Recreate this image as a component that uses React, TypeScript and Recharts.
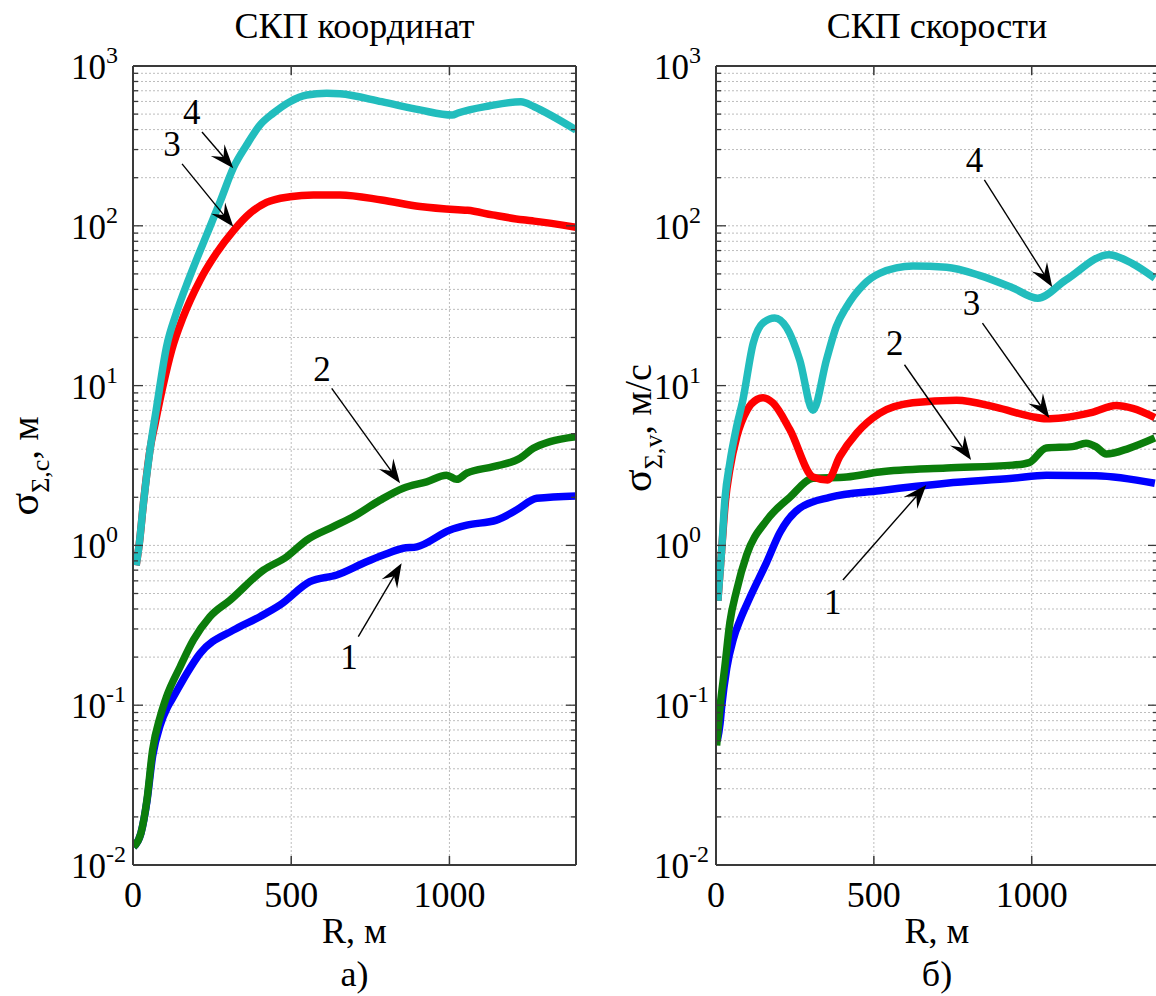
import React from "react";
import { LineChart, Line, XAxis, YAxis, CartesianGrid, ReferenceLine, ReferenceDot } from "recharts";

type Pt = [number, number];

// ---------- axes ----------
const xTicks = [0, 500, 1000];
const xTopTicks = [500, 1000];
const yDecades = [0.01, 0.1, 1, 10, 100, 1000];
const yMultipliers = [1, 2, 3, 4, 5, 6, 7, 8, 9];
const yTicks = yDecades
  .flatMap((d) => yMultipliers.map((m) => +(m * d).toPrecision(3)))
  .filter((v) => v <= 1000);

// ---------- panel а) СКП координат : [R, σ] ----------
const coordBlue: Pt[] = [
  [2, 0.013], [25, 0.0158], [44, 0.025], [62, 0.048], [86, 0.075], [110, 0.098], [128, 0.113],
  [170, 0.158], [212, 0.211], [317, 0.295], [401, 0.358], [465, 0.424], [559, 0.593], [644, 0.653],
  [738, 0.79], [791, 0.87], [854, 0.96], [897, 0.98], [1002, 1.25], [1055, 1.34], [1149, 1.44],
  [1213, 1.67], [1276, 1.97], [1400, 2.04],
];
const coordGreen: Pt[] = [
  [2, 0.013], [25, 0.0158], [44, 0.0255], [62, 0.0525], [86, 0.0848], [106, 0.113], [149, 0.174],
  [191, 0.256], [243, 0.358], [307, 0.455], [412, 0.7], [486, 0.85], [549, 1.08], [633, 1.31],
  [696, 1.51], [781, 1.92], [854, 2.28], [928, 2.5], [991, 2.75], [1023, 2.59], [1055, 2.83],
  [1139, 3.11], [1223, 3.51], [1265, 4.05], [1318, 4.46], [1400, 4.79],
];
const coordRed: Pt[] = [
  [10, 0.75], [20, 1.03], [33, 1.84], [54, 4.0], [70, 5.8], [96, 10.2], [122, 16.6], [159, 27],
  [212, 45.7], [264, 67.6], [317, 93], [370, 120], [422, 140], [496, 152], [570, 156], [654, 156],
  [786, 145], [907, 132], [1027, 126], [1057, 125], [1136, 117], [1232, 109], [1268, 107], [1400, 98],
];
const coordCyan: Pt[] = [
  [10, 0.75], [20, 1.03], [33, 1.84], [54, 4.0], [75, 7.4], [106, 17.5], [138, 28.8], [175, 45.7],
  [201, 61.7], [233, 88], [275, 141], [317, 230], [359, 320], [401, 427], [443, 506], [496, 598],
  [549, 658], [612, 675], [654, 670], [786, 598], [907, 531], [1009, 493], [1027, 508], [1124, 562],
  [1226, 598], [1268, 556], [1328, 482], [1400, 398],
];

// ---------- panel б) СКП скорости : [R, σ] ----------
const velBlue: Pt[] = [
  [4, 0.06], [13, 0.077], [18, 0.098], [34, 0.17], [55, 0.26], [76, 0.34], [107, 0.47], [160, 0.78],
  [202, 1.2], [265, 1.71], [360, 2.0], [518, 2.2], [730, 2.45], [939, 2.63], [1046, 2.75], [1204, 2.73],
  [1390, 2.45],
];
const velGreen: Pt[] = [
  [2, 0.056], [13, 0.098], [28, 0.174], [44, 0.33], [65, 0.52], [97, 0.87], [161, 1.44], [234, 2.0],
  [307, 2.63], [414, 2.68], [518, 2.88], [730, 3.05], [939, 3.18], [992, 3.3], [1046, 4.07], [1129, 4.15],
  [1172, 4.36], [1203, 4.15], [1236, 3.73], [1308, 4.05], [1390, 4.7],
];
const velRed: Pt[] = [
  [6, 0.45], [18, 0.94], [30, 1.9], [44, 3.0], [66, 4.8], [98, 7.0], [130, 8.2], [149, 8.4], [180, 7.8],
  [234, 5.3], [307, 2.68], [354, 2.57], [392, 3.6], [446, 5.05], [518, 6.7], [623, 7.8], [762, 8.1],
  [888, 7.3], [1000, 6.4], [1046, 6.2], [1100, 6.3], [1192, 6.8], [1267, 7.5], [1320, 7.2], [1390, 6.3],
];
const velCyan: Pt[] = [
  [6, 0.45], [18, 0.94], [28, 1.92], [44, 3.3], [65, 5.5], [85, 8.1], [118, 18.5], [149, 24.7],
  [186, 26.5], [224, 23], [265, 14.5], [307, 7.0], [350, 14.5], [381, 23.4], [413, 31], [466, 42.6],
  [518, 50.4], [624, 56], [730, 55], [834, 49], [939, 41], [1019, 35.2], [1108, 45.8], [1245, 66],
  [1319, 58], [1390, 47],
];

// ---------- annotations: label position, arrow start, arrow tip (data coords) ----------
type Note = { label: string; lr: number; lv: number; fr: number; fv: number; tr: number; tv: number };
const coordNotes: Note[] = [
  { label: "4", lr: 186, lv: 515, fr: 218, fv: 386, tr: 317, tv: 229 },
  { label: "3", lr: 123, lv: 325, fr: 155, fv: 244, tr: 317, tv: 98.7 },
  { label: "2", lr: 597, lv: 12.7, fr: 628, fv: 9.6, tr: 844, tv: 2.45 },
  { label: "1", lr: 683, lv: 0.199, fr: 712, fv: 0.269, tr: 849, tv: 0.773 },
];
const velNotes: Note[] = [
  { label: "4", lr: 819, lv: 258, fr: 850, fv: 194, tr: 1065, tv: 41.4 },
  { label: "3", lr: 809, lv: 32.9, fr: 844, fv: 24.6, tr: 1056, tv: 6.27 },
  { label: "2", lr: 566, lv: 18.5, fr: 597, fv: 13.5, tr: 808, tv: 3.42 },
  { label: "1", lr: 370, lv: 0.443, fr: 402, fv: 0.607, tr: 666, tv: 2.39 },
];

// ---------- style ----------
const FONT = "'Liberation Serif', 'Times New Roman', serif";
const AXIS = "#3a3a3a";
const GRID = "#bdbdbd";
const COLORS = { blue: "#0000ff", green: "#0b7d0b", red: "#ff0000", cyan: "#22bdbd" };

const toData = (pts: Pt[]) => pts.map(([r, v]) => ({ r, v }));

const isDecade = (v: number) => Math.abs(Math.log10(v) - Math.round(Math.log10(v))) < 1e-6;

const BottomTick = (p: any) => {
  const { x, y, payload } = p;
  return (
    <g>
      <line x1={x} y1={y} x2={x} y2={y - 9} stroke={AXIS} strokeWidth={1.5} />
      <text x={x} y={y + 42} textAnchor="middle" fontFamily={FONT} fontSize={36} fill="#000">
        {payload.value}
      </text>
    </g>
  );
};
const TopTick = (p: any) => {
  const { x, y } = p;
  return <line x1={x} y1={y} x2={x} y2={y + 9} stroke={AXIS} strokeWidth={1.5} />;
};
const LeftTick = (p: any) => {
  const { x, y, payload } = p;
  const dec = isDecade(payload.value);
  const exp = Math.round(Math.log10(payload.value));
  return (
    <g>
      <line x1={x} y1={y} x2={x + (dec ? 10 : 5)} y2={y} stroke={AXIS} strokeWidth={1.3} />
      {dec && (
        <text x={x - 62} y={y + 13} textAnchor="start" fontFamily={FONT} fontSize={35} fill="#000">
          10
          <tspan fontSize={24} dy={-16}>
            {String(exp)}
          </tspan>
        </text>
      )}
    </g>
  );
};
const RightTick = (p: any) => {
  const { x, y, payload } = p;
  const dec = isDecade(payload.value);
  return <line x1={x} y1={y} x2={x - (dec ? 10 : 5)} y2={y} stroke={AXIS} strokeWidth={1.3} />;
};

const ArrowShape = (p: any) => {
  const { x1, y1, x2, y2 } = p;
  if ([x1, y1, x2, y2].some((v) => typeof v !== "number" || isNaN(v))) return <g />;
  const dx = x2 - x1;
  const dy = y2 - y1;
  const len = Math.hypot(dx, dy) || 1;
  const ux = dx / len;
  const uy = dy / len;
  const nx = -uy;
  const ny = ux;
  const L = 24;
  const W = 9;
  const N = 15;
  const bx = x2 - ux * L;
  const by = y2 - uy * L;
  const pts = [
    [x2, y2],
    [bx + nx * W, by + ny * W],
    [x2 - ux * N, y2 - uy * N],
    [bx - nx * W, by - ny * W],
  ];
  return (
    <g>
      <line x1={x1} y1={y1} x2={x2 - ux * N} y2={y2 - uy * N} stroke="#000" strokeWidth={1.4} />
      <polygon points={pts.map((q) => q.join(",")).join(" ")} fill="#000" />
    </g>
  );
};

const makeLabelShape = (label: string) => (p: any) => {
  const { cx, cy } = p;
  if (typeof cx !== "number" || typeof cy !== "number") return <g />;
  return (
    <text x={cx} y={cy + 12} textAnchor="middle" fontFamily={FONT} fontSize={35} fill="#000">
      {label}
    </text>
  );
};

type Series = { name: string; data: Pt[]; color: string };

function Panel({
  series,
  notes,
  width,
  margin,
}: {
  series: Series[];
  notes: Note[];
  width: number;
  margin: { top: number; right: number; bottom: number; left: number };
}) {
  const axisLine = { stroke: AXIS, strokeWidth: 2 };
  return (
    <LineChart width={width} height={996} margin={margin}>
      <CartesianGrid stroke={GRID} strokeDasharray="2 2" strokeWidth={1} />
      <XAxis
        xAxisId={0}
        type="number"
        dataKey="r"
        domain={[0, 1400]}
        ticks={xTicks}
        interval={0}
        allowDataOverflow
        height={40}
        tickSize={0}
        tickMargin={0}
        tickLine={false}
        axisLine={axisLine}
        tick={<BottomTick />}
      />
      <XAxis
        xAxisId="top"
        orientation="top"
        type="number"
        dataKey="r"
        domain={[0, 1400]}
        ticks={xTopTicks}
        interval={0}
        allowDataOverflow
        height={1}
        tickSize={0}
        tickMargin={0}
        tickLine={false}
        axisLine={axisLine}
        tick={<TopTick />}
      />
      <YAxis
        yAxisId={0}
        type="number"
        scale="log"
        domain={[0.01, 1000]}
        ticks={yTicks}
        interval={0}
        allowDataOverflow
        width={100}
        tickSize={0}
        tickMargin={0}
        tickLine={false}
        axisLine={axisLine}
        tick={<LeftTick />}
      />
      <YAxis
        yAxisId="right"
        orientation="right"
        type="number"
        scale="log"
        domain={[0.01, 1000]}
        ticks={yTicks}
        interval={0}
        allowDataOverflow
        width={1}
        tickSize={0}
        tickMargin={0}
        tickLine={false}
        axisLine={axisLine}
        tick={<RightTick />}
      />
      {series.map((s) => (
        <Line
          key={s.name}
          name={s.name}
          data={toData(s.data)}
          dataKey="v"
          xAxisId={0}
          yAxisId={0}
          type="monotone"
          stroke={s.color}
          strokeWidth={7.5}
          strokeLinejoin="round"
          dot={false}
          activeDot={false}
          isAnimationActive={false}
        />
      ))}
      {notes.map((n, i) => (
        <ReferenceLine
          key={"a" + i}
          xAxisId={0}
          yAxisId={0}
          segment={[
            { x: n.fr, y: n.fv },
            { x: n.tr, y: n.tv },
          ]}
          ifOverflow="visible"
          shape={ArrowShape}
        />
      ))}
      {notes.map((n, i) => (
        <ReferenceDot
          key={"l" + i}
          xAxisId={0}
          yAxisId={0}
          x={n.lr}
          y={n.lv}
          r={0}
          ifOverflow="visible"
          shape={makeLabelShape(n.label)}
        />
      ))}
    </LineChart>
  );
}

const coordSeries: Series[] = [
  { name: "1", data: coordBlue, color: COLORS.blue },
  { name: "2", data: coordGreen, color: COLORS.green },
  { name: "3", data: coordRed, color: COLORS.red },
  { name: "4", data: coordCyan, color: COLORS.cyan },
];
const velSeries: Series[] = [
  { name: "1", data: velBlue, color: COLORS.blue },
  { name: "2", data: velGreen, color: COLORS.green },
  { name: "3", data: velRed, color: COLORS.red },
  { name: "4", data: velCyan, color: COLORS.cyan },
];

export default function App() {
  return (
    <div
      style={{
        position: "absolute",
        left: 0,
        top: 0,
        width: 1156,
        height: 996,
        overflow: "hidden",
        background: "#fff",
      }}
    >
      <div style={{ position: "absolute", left: 0, top: 0 }}>
        <Panel series={coordSeries} notes={coordNotes} width={590} margin={{ top: 65, right: 13, bottom: 91, left: 33 }} />
      </div>
      <div style={{ position: "absolute", left: 580, top: 0 }}>
        <Panel series={velSeries} notes={velNotes} width={600} margin={{ top: 65, right: 21, bottom: 91, left: 36 }} />
      </div>
      <svg
        width={1156}
        height={996}
        style={{ position: "absolute", left: 0, top: 0, pointerEvents: "none" }}
        fontFamily={FONT}
      >
        <text x={354.5} y={38} textAnchor="middle" fontSize={36} fill="#000">СКП координат</text>
        <text x={937} y={38} textAnchor="middle" fontSize={36} fill="#000">СКП скорости</text>
        <text x={354.5} y={943} textAnchor="middle" fontSize={36} fill="#000">R, м</text>
        <text x={937} y={943} textAnchor="middle" fontSize={36} fill="#000">R, м</text>
        <text x={354.5} y={986} textAnchor="middle" fontSize={36} fill="#000">а)</text>
        <text x={937} y={986} textAnchor="middle" fontSize={36} fill="#000">б)</text>
        <text x={38} y={466} textAnchor="middle" transform="rotate(-90 38 466)" fill="#000">
          <tspan fontSize={42}>σ</tspan>
          <tspan fontSize={26} dy={11}>Σ,c</tspan>
          <tspan fontSize={38} dy={-11}>, м</tspan>
        </text>
        <text x={651} y={428} textAnchor="middle" transform="rotate(-90 651 428)" fill="#000">
          <tspan fontSize={42}>σ</tspan>
          <tspan fontSize={26} dy={11}>Σ,v</tspan>
          <tspan fontSize={38} dy={-11}>, м/с</tspan>
        </text>
      </svg>
    </div>
  );
}
